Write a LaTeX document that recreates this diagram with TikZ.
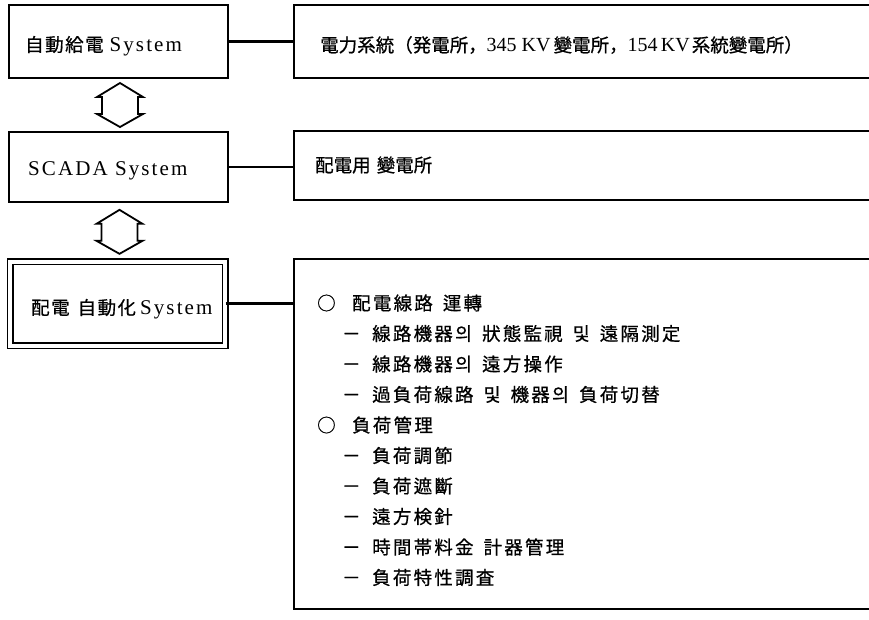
\documentclass[tikz,border=0pt]{standalone}
\usepackage{fontspec}
\setmainfont{Liberation Serif}
\newfontfamily\lat[LetterSpace=10]{Liberation Serif}
\newfontfamily\cjk[FakeBold=0.7]{Noto Sans CJK KR}
\newfontfamily\cjkL[LetterSpace=8,FakeBold=0.7]{Noto Sans CJK KR}
\newfontfamily\cjkI[LetterSpace=12,FakeBold=0.7]{Noto Sans CJK KR}
\newcommand\wsp{\spaceskip=10pt\relax}
\newcommand\cjkbig{\fontsize{18.5pt}{21pt}\selectfont}
\usetikzlibrary{calc}
\tikzset{
  lbox/.style={draw, line width=1.8pt, minimum width=219pt, inner sep=0pt},
  rbox/.style={draw, line width=1.8pt, minimum width=606pt, inner sep=0pt},
  conn/.style={line width=2.2pt},
  dblarr/.style={draw, line width=1.8pt, line join=miter},
  lbl/.style={inner sep=0pt, anchor=west, font={\fontsize{21pt}{23pt}\selectfont}},
  rlbl/.style={inner sep=0pt, anchor=west, font={\fontsize{20pt}{22pt}\selectfont}},
  item/.style={inner sep=0pt, anchor=west, font={\cjkbig\cjkI\wsp}},
}
\begin{document}
\begin{tikzpicture}[x=1pt,y=-1pt]
\clip (0,0) rectangle (869,619);
\fill[white] (0,0) rectangle (869,619);
% left boxes
\node[lbox, minimum height=73pt] (b1) at (118.5,41.5) {};
\node[lbox, minimum height=70pt] (b2) at (118.5,167) {};
\node[lbox, minimum width=215pt, minimum height=84pt, double, double distance=4pt, line width=1.5pt] (b3) at (117.5,303.5) {};
% right boxes (open to the right edge)
\node[rbox, minimum height=73pt] (r1) at (597,41.5) {};
\node[rbox, minimum height=69pt] (r2) at (597,165.5) {};
\node[rbox, minimum height=350pt] (r3) at (597,434) {};
% box texts
\node[lbl] (t1) at (25,46) {{\cjkbig\cjkL 自動給電}\hspace{6pt}{\lat System}};
\node[lbl] (t2) at (28,171) {\lat SCADA System};
\node[lbl] (t3) at (31,309) {{\cjkbig\cjkL 配電\hspace{8pt}自動化}\hspace{4pt}{\lat System}};
\node[rlbl] (u1) at (320,45) {{\cjkbig\cjk 電力系統（発電所，}345 KV\hspace{3pt}{\cjkbig\cjk 變電所，}154\,KV\hspace{2pt}{\cjkbig\cjk 系統變電所）}};
\node[rlbl] (u2) at (315,165) {{\cjkbig\cjk\spaceskip=6pt\relax 配電用 變電所}};
% connectors
\draw[conn] (b1.east) -- (b1.east -| r1.west);
\draw[conn] (b2.east) -- (b2.east -| r2.west);
\draw[conn] (b3.east) -- (b3.east -| r3.west);
% double arrows
\coordinate (m1) at ($(b1.south)!0.5!(b2.north)+(1.5,0)$);
\coordinate (m2) at ($(b2.south)!0.5!(b3.north)+(1.5,0)$);
\foreach \m in {m1,m2}{
\draw[dblarr] (\m) ++(0,-22) -- ++(-23,14) -- ++(5,0) -- ++(0,17) -- ++(-5,0) -- ++(23,13)
  -- ++(23,-13) -- ++(-5,0) -- ++(0,-17) -- ++(5,0) -- cycle;
}
% list
\node[item] (l1) at (317,303) {\makebox[35pt][l]{○}配電線路 運轉};
\node[item] (l2) at (342,333.5) {\makebox[30pt][l]{－}線路機器의 狀態監視 및 遠隔測定};
\node[item] (l3) at (342,364) {\makebox[30pt][l]{－}線路機器의 遠方操作};
\node[item] (l4) at (342,394.5) {\makebox[30pt][l]{－}過負荷線路 및 機器의 負荷切替};
\node[item] (l5) at (317,425) {\makebox[35pt][l]{○}負荷管理};
\node[item] (l6) at (342,455.5) {\makebox[30pt][l]{－}負荷調節};
\node[item] (l7) at (342,486) {\makebox[30pt][l]{－}負荷遮斷};
\node[item] (l8) at (342,516.5) {\makebox[30pt][l]{－}遠方検針};
\node[item] (l9) at (342,547) {\makebox[30pt][l]{－}時間帯料金 計器管理};
\node[item] (l10) at (342,577.5) {\makebox[30pt][l]{－}負荷特性調査};
\end{tikzpicture}
\end{document}
